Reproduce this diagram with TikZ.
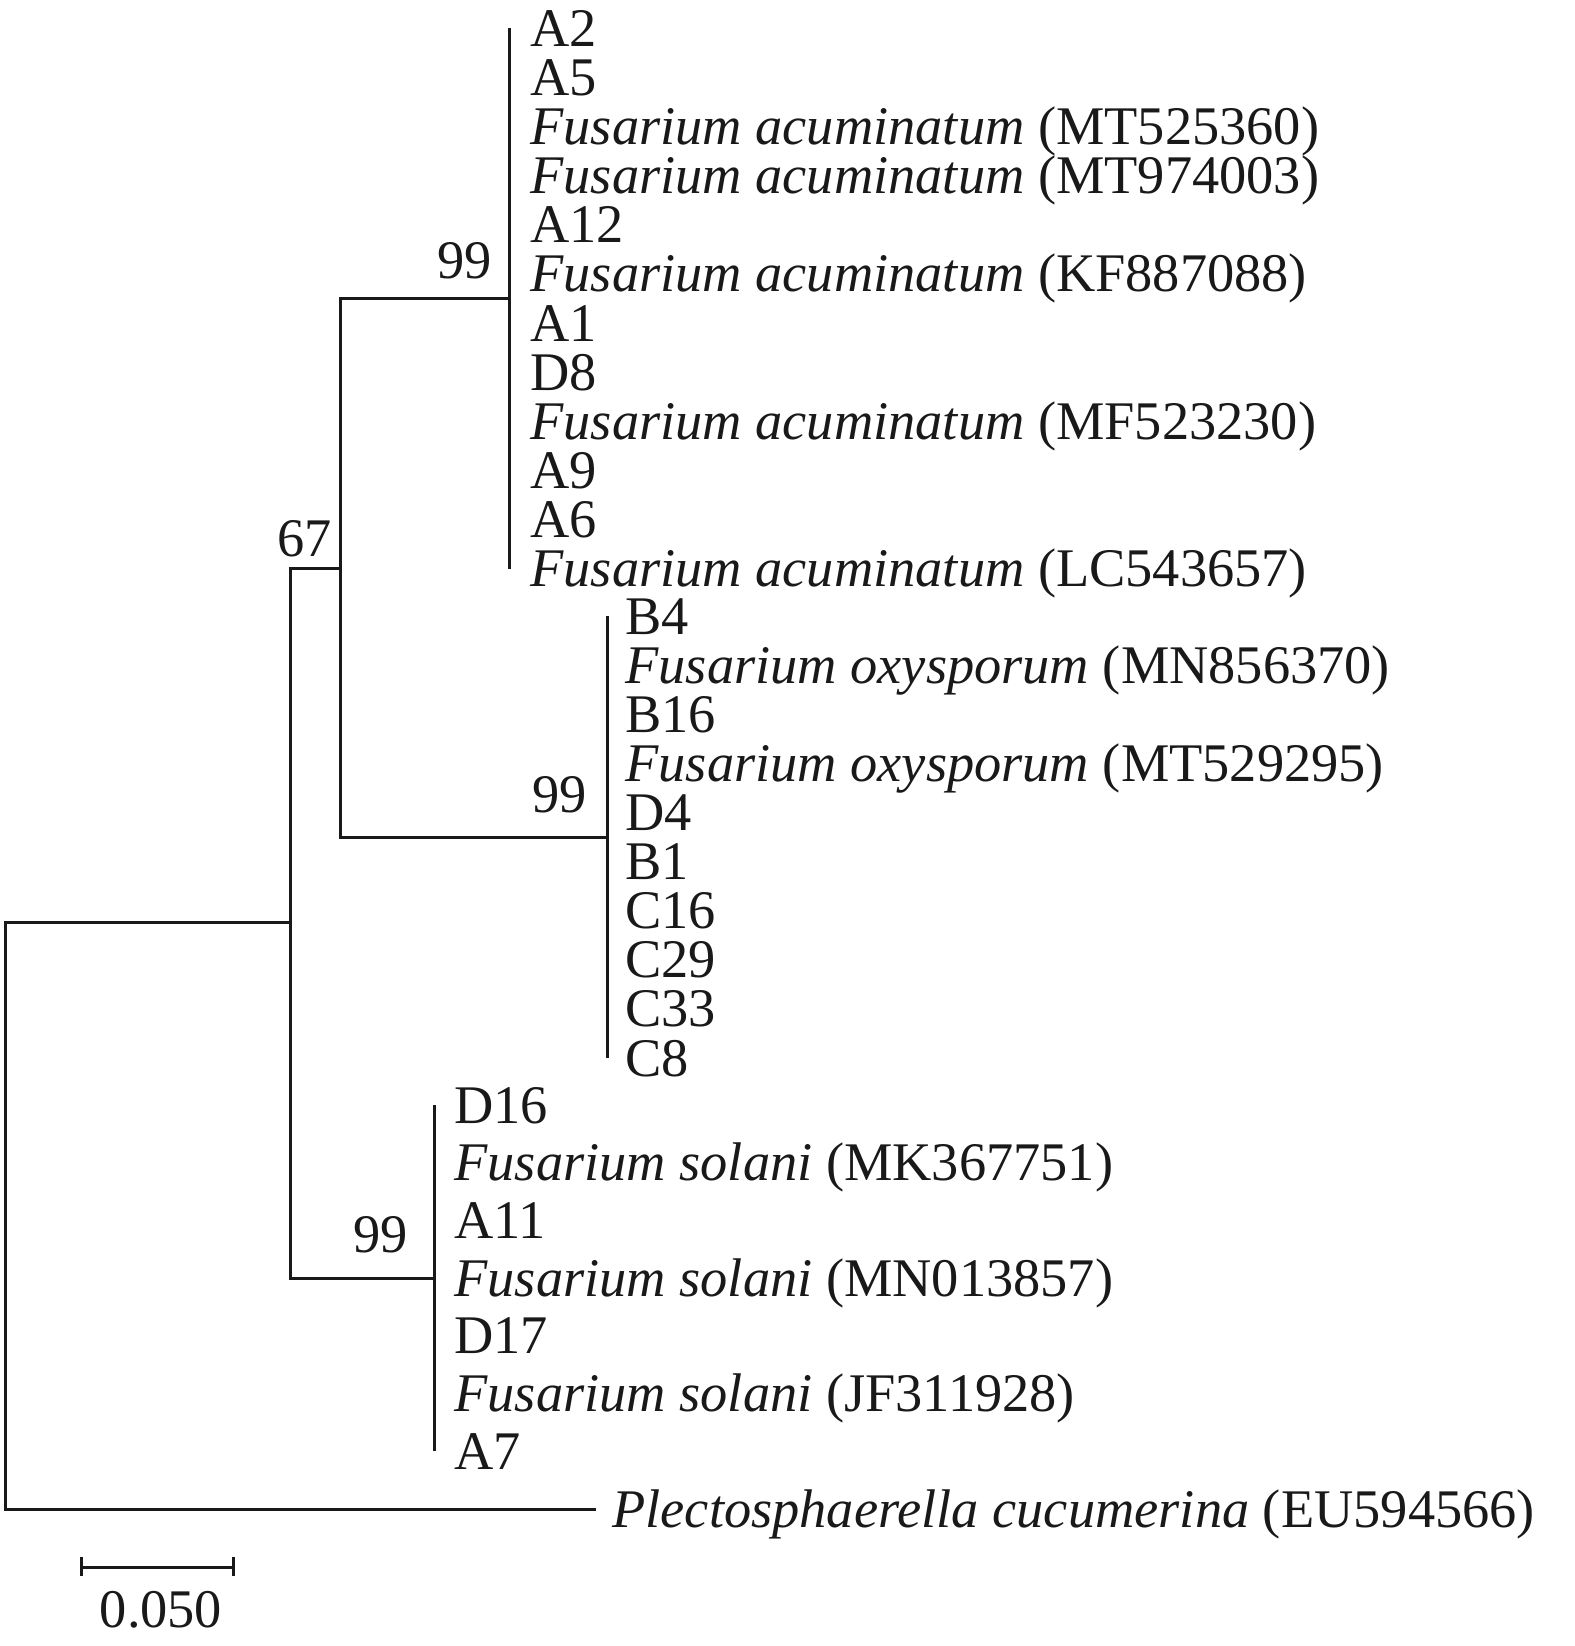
\documentclass[tikz,border=0pt]{standalone}
\usepackage{fontspec}
\setmainfont{Liberation Serif}
\begin{document}
\begin{tikzpicture}[x=0.5pt,y=-0.5pt,
  br/.style={line width=1.5pt, line join=miter, color=black!90},
  tip/.style={anchor=base west, inner sep=0pt, font=\fontsize{27.2}{30}\selectfont, text=black!90},
  boot/.style={anchor=base east, inner sep=0pt, font=\fontsize{27.2}{30}\selectfont, text=black!90}]
\useasboundingbox (0,0) rectangle (1575,1646);
% internal nodes
\coordinate (root) at (5,1215.5);
\coordinate (ing) at (290,922);
\coordinate (nAB) at (340,568);
\coordinate (nA) at (509,298);
\coordinate (nB) at (607,837);
\coordinate (nS) at (434,1278);
\coordinate (outEnd) at (596,1509);
\coordinate (Atop) at (509,28);
\coordinate (Abot) at (509,569);
\coordinate (Btop) at (607,616);
\coordinate (Bbot) at (607,1058);
\coordinate (Stop) at (434,1105);
\coordinate (Sbot) at (434,1451);
% branches
\draw[br] (ing) -| (root) |- (outEnd);
\draw[br] (ing) |- (nAB);
\draw[br] (ing) |- (nS);
\draw[br] (nAB) |- (nA);
\draw[br] (nAB) |- (nB);
\draw[br] (Atop) -- (Abot);
\draw[br] (Btop) -- (Bbot);
\draw[br] (Stop) -- (Sbot);
% bootstrap values
\node[boot] (bA) at (492,278) {99};
\node[boot] (bAB) at (332,556) {67};
\node[boot] (bB) at (587,812) {99};
\node[boot] (bS) at (408,1252) {99};
% A clade tips
\foreach \i/\t [count=\k from 0] in {a1/A2,a2/A5,a3/{\textit{Fusarium acuminatum} (MT525360)},a4/{\textit{Fusarium acuminatum} (MT974003)},a5/A12,a6/{\textit{Fusarium acuminatum} (KF887088)},a7/A1,a8/D8,a9/{\textit{Fusarium acuminatum} (MF523230)},a10/A9,a11/A6,a12/{\textit{Fusarium acuminatum} (LC543657)}}
  \node[tip] (\i) at (530,{28+\k*49.18+18}) {\t};
% B clade tips
\foreach \i/\t [count=\k from 0] in {b1/B4,b2/{\textit{Fusarium oxysporum} (MN856370)},b3/B16,b4/{\textit{Fusarium oxysporum} (MT529295)},b5/D4,b6/B1,b7/C16,b8/C29,b9/C33,b10/C8}
  \node[tip] (\i) at (625,{616+\k*49.11+18}) {\t};
% solani clade tips
\foreach \i/\t [count=\k from 0] in {s1/D16,s2/{\textit{Fusarium solani} (MK367751)},s3/A11,s4/{\textit{Fusarium solani} (MN013857)},s5/D17,s6/{\textit{Fusarium solani} (JF311928)},s7/A7}
  \node[tip] (\i) at (454,{1105+\k*57.67+18}) {\t};
% outgroup
\node[tip] (og) at (612,{1509+18}) {\textit{Plectosphaerella cucumerina} (EU594566)};
% scale bar
\coordinate (sbL) at (81,1567);
\coordinate (sbR) at (233,1567);
\draw[br] (sbL) -- (sbR);
\draw[br] ([yshift=5pt]sbL) -- ([yshift=-4.5pt]sbL);
\draw[br] ([yshift=5pt]sbR) -- ([yshift=-4.5pt]sbR);
\node[anchor=base, inner sep=0pt, font=\fontsize{27.2}{30}\selectfont, text=black!90] (sbt) at (161,1627) {0.050};
\end{tikzpicture}
\end{document}
